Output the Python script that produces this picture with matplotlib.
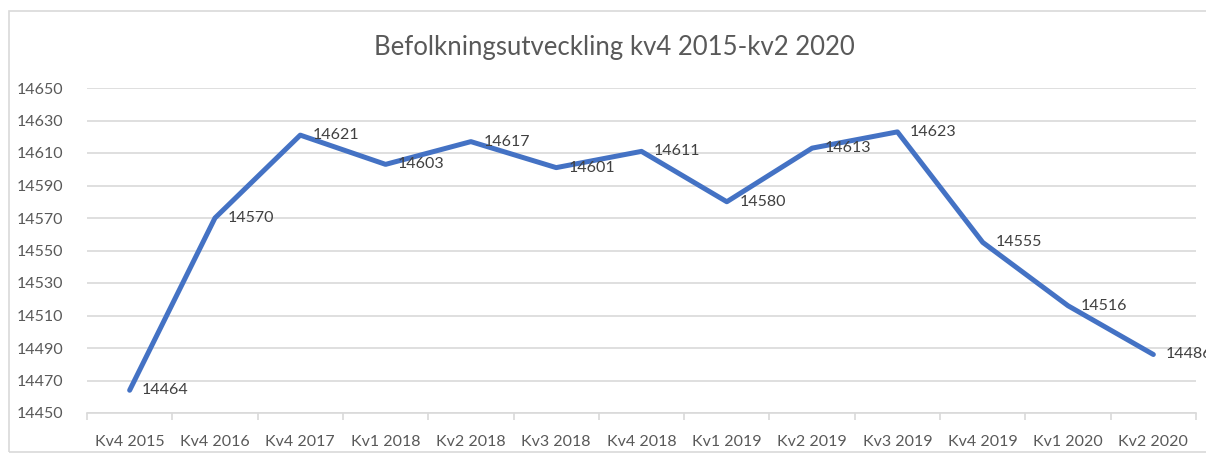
import matplotlib
matplotlib.use("Agg")
import matplotlib.pyplot as plt
from matplotlib.patches import Rectangle

# Befolkning per kvartal
quarters = ["Kv4 2015", "Kv4 2016", "Kv4 2017", "Kv1 2018", "Kv2 2018",
            "Kv3 2018", "Kv4 2018", "Kv1 2019", "Kv2 2019", "Kv3 2019",
            "Kv4 2019", "Kv1 2020", "Kv2 2020"]
population = [14464, 14570, 14621, 14603, 14617, 14601, 14611, 14580,
              14613, 14623, 14555, 14516, 14486]
y_ticks = list(range(14450, 14651, 20))

TEXT = "#595959"
GRID = "#D9D9D9"
LINE = "#4472C4"
plt.rcParams["font.family"] = ["Lato", "DejaVu Sans"]

fig = plt.figure(figsize=(12.06, 4.54), dpi=100)
fig.patches.append(Rectangle((9 / 1206, 2 / 454), 1.2, 441 / 454,
                             transform=fig.transFigure, fill=False,
                             edgecolor="#D9D9D9", linewidth=1.2))

ax = fig.add_axes([87 / 1206, 1 - 413 / 454, 1109 / 1206, 325 / 454])
x = list(range(len(quarters)))
ax.plot(x, population, color=LINE, linewidth=3.6, solid_capstyle="round",
        solid_joinstyle="round", zorder=3)

for xi, v in zip(x, population):
    ax.annotate(str(v), (xi, v), xytext=(9, 0), textcoords="offset points",
                ha="left", va="center", fontsize=11.5, color="#404040",
                annotation_clip=False, zorder=4)

ax.set_xlim(-0.5, len(quarters) - 0.5)
ax.set_ylim(14450, 14650)
ax.set_yticks(y_ticks)
ax.set_yticklabels([str(t) for t in y_ticks])
ax.yaxis.grid(True, color=GRID, linewidth=1.2)
ax.set_axisbelow(True)

ax.set_xticks(x)
ax.set_xticklabels(quarters)
ax.set_xticks([i - 0.5 for i in range(len(quarters) + 1)], minor=True)
ax.tick_params(axis="x", which="major", length=0, pad=16, labelsize=11.5,
               labelcolor=TEXT)
ax.tick_params(axis="x", which="minor", length=5, color=GRID, width=1.2)
ax.tick_params(axis="y", length=0, pad=17, labelsize=11.5, labelcolor=TEXT)

for side in ("top", "right", "left"):
    ax.spines[side].set_visible(False)
ax.spines["bottom"].set_color(GRID)
ax.spines["bottom"].set_linewidth(1.2)

fig.text(614 / 1206, 1 - 47 / 454, "Befolkningsutveckling kv4 2015-kv2 2020",
         ha="center", va="center", fontsize=18.5, color=TEXT)

fig.savefig("out.png", dpi=100)
